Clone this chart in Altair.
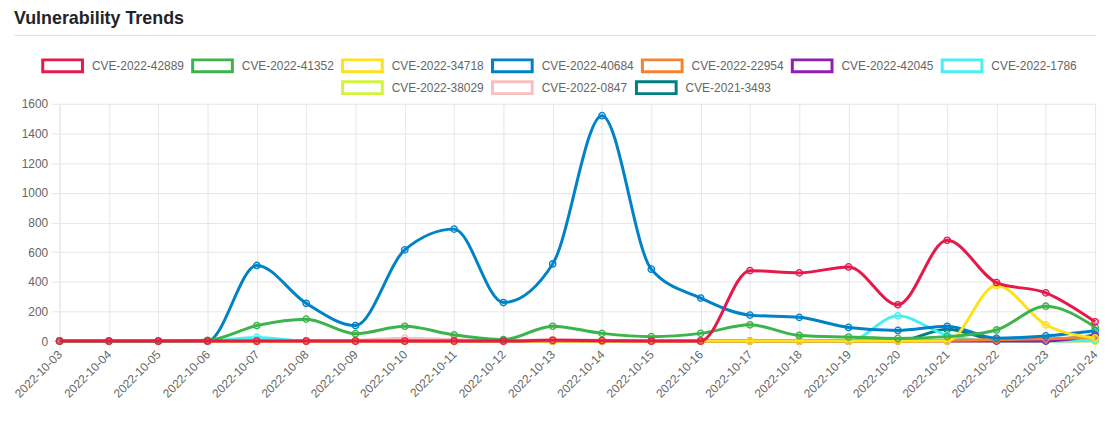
import altair as alt
import pandas as pd

dates = ["2022-10-03", "2022-10-04", "2022-10-05", "2022-10-06", "2022-10-07", "2022-10-08",
         "2022-10-09", "2022-10-10", "2022-10-11", "2022-10-12", "2022-10-13", "2022-10-14",
         "2022-10-15", "2022-10-16", "2022-10-17", "2022-10-18", "2022-10-19", "2022-10-20",
         "2022-10-21", "2022-10-22", "2022-10-23", "2022-10-24"]

series_names = ["CVE-2022-42889", "CVE-2022-41352", "CVE-2022-34718", "CVE-2022-40684",
                "CVE-2022-22954", "CVE-2022-42045", "CVE-2022-1786", "CVE-2022-38029",
                "CVE-2022-0847", "CVE-2021-3493"]
series_colors = ["#e6194b", "#3cb44b", "#ffe119", "#0082c8", "#f58231", "#911eb4",
                 "#46f0f0", "#d2f53c", "#fabebe", "#008080"]

v_42889 = [0, 0, 0, 0, 0, 0, 0, 0, 0, 0, 5, 3, 0, 0, 475, 460, 500, 245, 680, 395, 325, 130]
v_41352 = [0, 0, 0, 5, 105, 148, 50, 100, 42, 10, 100, 52, 30, 52, 110, 38, 27, 18, 30, 75, 235, 95]
v_34718 = [0, 0, 0, 0, 0, 0, 0, 0, 0, 0, 0, 0, 0, 0, 0, 0, 0, 0, 0, 375, 110, 20]
v_40684 = [0, 0, 0, 0, 510, 255, 105, 615, 755, 260, 520, 1520, 485, 290, 175, 160, 92, 72, 100, 20, 35, 70]
v_22954 = [0, 0, 0, 0, 0, 0, 0, 0, 0, 0, 0, 0, 0, 0, 0, 0, 0, 0, 5, 10, 15, 25]
v_42045 = [0, 0, 0, 0, 0, 0, 0, 0, 0, 0, 0, 0, 0, 0, 0, 0, 0, 0, 0, 0, 0, 40]
v_1786 = [0, 0, 0, 0, 25, 0, 0, 0, 0, 0, 0, 0, 0, 0, 0, 0, 0, 170, 40, 0, 0, 5]
v_38029 = [0, 0, 0, 0, 0, 0, 0, 0, 0, 0, 0, 0, 0, 0, 0, 0, 0, 0, 0, 0, 0, 0]
v_0847 = [0, 0, 0, 0, 0, 0, 5, 20, 10, 0, 10, 5, 0, 0, 0, 0, 0, 0, 0, 0, 0, 0]
v_3493 = [0, 0, 0, 0, 0, 0, 0, 0, 0, 0, 0, 0, 0, 0, 0, 0, 0, 0, 80, 10, 10, 40]

series_values = [v_42889, v_41352, v_34718, v_40684, v_22954, v_42045, v_1786, v_38029, v_0847, v_3493]
y_ticks = [0, 200, 400, 600, 800, 1000, 1200, 1400, 1600]
chart_title = "Vulnerability Trends"

rows = []
for name, vals in zip(series_names, series_values):
    for d, v in zip(dates, vals):
        rows.append({"date": d, "series": name, "value": v})
df = pd.DataFrame(rows)
title_df = pd.DataFrame({"title": [chart_title]})

row1 = series_names[:7]
row2 = series_names[7:]
colors1 = series_colors[:7]
colors2 = series_colors[7:]

FONT = "Liberation Sans"
GRID = "#e6e6e6"

legend_common = dict(
    title=None, direction="horizontal", symbolType="M-1,-0.3H1V0.3H-1Z", symbolSize=1600,
    symbolStrokeWidth=3, symbolFillColor="white", symbolOpacity=1, labelFontSize=12,
    labelColor="#666666", labelFont=FONT, labelOffset=8, columnPadding=2, padding=0,
    orient="none",
)
legend1 = alt.Legend(columns=7, legendX=-18.5, legendY=-60, **legend_common)
legend2 = alt.Legend(columns=3, legendX=283.5, legendY=-38, **legend_common)

x_enc = alt.X("date:O", sort=dates, scale=alt.Scale(type="point", padding=0),
              axis=alt.Axis(title=None, labelAngle=315, labelAlign="right", labelBaseline="middle",
                            labelFontSize=12, labelColor="#666666", labelFont=FONT, labelPadding=3,
                            grid=True, gridColor=GRID, tickColor=GRID, tickSize=8,
                            domainColor=GRID, labelOverlap=False))
y_enc = alt.Y("value:Q", scale=alt.Scale(domain=[0, 1600], nice=False),
              axis=alt.Axis(title=None, values=y_ticks, format="d", labelFontSize=12,
                            labelColor="#666666", labelFont=FONT, labelPadding=4, grid=True,
                            gridColor=GRID, tickColor=GRID, tickSize=8, domainColor=GRID))

base = alt.Chart(df)
deco = alt.Chart(title_df)
layers = [
    deco.mark_rule(color="#dddddd", strokeWidth=1).encode(
        x=alt.value(-46), x2=alt.value(1044), y=alt.value(-69)),
    deco.mark_text(align="left", baseline="middle", font=FONT, fontSize=18, fontWeight="bold",
                   color="#212529").encode(
        x=alt.value(-46), y=alt.value(-85), text="title:N"),
]
for name, col in reversed(list(zip(series_names, series_colors))):
    sub = base.transform_filter(alt.datum.series == name)
    if name in row1:
        cenc = {"color": alt.Color("series:N", scale=alt.Scale(domain=row1, range=colors1), legend=legend1)}
    else:
        cenc = {"stroke": alt.Stroke("series:N", scale=alt.Scale(domain=row2, range=colors2), legend=legend2)}
    line = sub.mark_line(interpolate="monotone", strokeWidth=3).encode(x=x_enc, y=y_enc, **cenc)
    pts = sub.mark_point(shape="circle", size=42, strokeWidth=1.3, filled=False, stroke=col,
                         fill=col, fillOpacity=0.2, opacity=1).encode(x=x_enc, y=y_enc)
    layers += [line, pts]

chart = alt.layer(*layers).properties(
    width=1043, height=239,
).configure(
    autosize=alt.AutoSizeParams(type="none"),
    padding={"left": 52, "top": 95, "right": 15, "bottom": 80},
).configure_view(stroke=None)

chart.save("out.html", embed_options={"renderer": "svg", "actions": False})
